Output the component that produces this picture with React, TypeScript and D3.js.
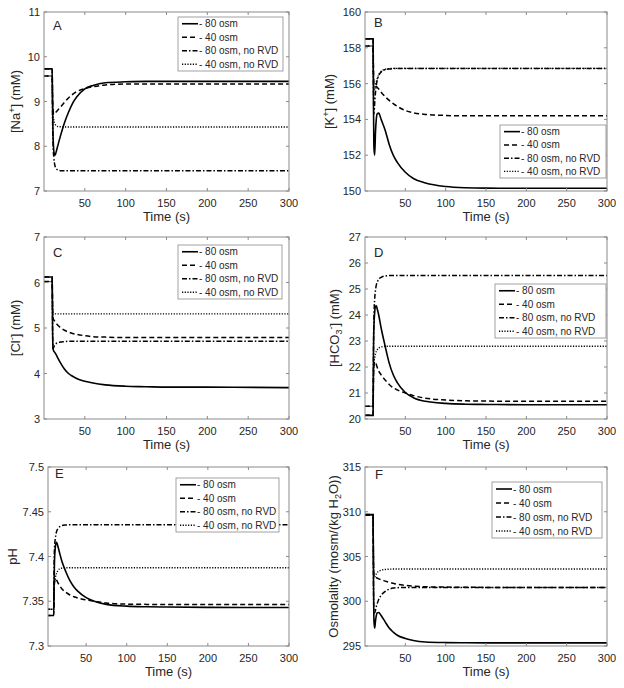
import React from 'react';
import * as d3 from 'd3';

// ---------------- data ----------------
const TIME = [0, 10, 10.5, 11, 12, 13, 14, 15, 17, 20, 25, 30, 35, 40, 50, 60, 75, 100, 125, 150, 200, 300];

const LEGEND_LABELS = ['- 80 osm', '- 40 osm', '- 80 osm, no RVD', '- 40 osm, no RVD'];
const X_TICKS = [50, 100, 150, 200, 250, 300];

// A: [Na+]
const NA_80 = [9.73, 9.73, 8.9, 8.3, 7.9, 7.8, 7.82, 7.88, 8.02, 8.22, 8.52, 8.76, 8.96, 9.1, 9.28, 9.36, 9.42, 9.44, 9.45, 9.45, 9.45, 9.45];
const NA_40 = [9.73, 9.73, 9.1, 8.82, 8.72, 8.73, 8.75, 8.77, 8.81, 8.87, 8.98, 9.08, 9.16, 9.22, 9.29, 9.33, 9.37, 9.39, 9.39, 9.39, 9.39, 9.39];
const NA_80N = [9.57, 9.57, 8.6, 8.1, 7.75, 7.6, 7.53, 7.5, 7.47, 7.455, 7.45, 7.45, 7.45, 7.45, 7.45, 7.45, 7.45, 7.45, 7.45, 7.45, 7.45, 7.45];
const NA_40N = [9.57, 9.57, 9.0, 8.75, 8.58, 8.52, 8.48, 8.46, 8.44, 8.435, 8.43, 8.43, 8.43, 8.43, 8.43, 8.43, 8.43, 8.43, 8.43, 8.43, 8.43, 8.43];
const Y_TICKS_A = [7, 8, 9, 10, 11];

// B: [K+]
const K_80 = [158.5, 158.5, 155.0, 152.5, 152.0, 153.3, 154.0, 154.3, 154.35, 154.0, 153.4, 152.6, 152.0, 151.6, 151.05, 150.7, 150.45, 150.25, 150.18, 150.16, 150.15, 150.15];
const K_40 = [158.5, 158.5, 156.8, 156.0, 155.9, 155.87, 155.84, 155.8, 155.7, 155.52, 155.27, 155.06, 154.88, 154.73, 154.5, 154.37, 154.28, 154.22, 154.2, 154.2, 154.2, 154.2];
const K_80N = [158.1, 158.1, 155.5, 154.3, 154.9, 155.5, 155.9, 156.15, 156.45, 156.65, 156.78, 156.82, 156.84, 156.85, 156.85, 156.85, 156.85, 156.85, 156.85, 156.85, 156.85, 156.85];
const K_40N = [158.1, 158.1, 156.3, 155.6, 155.75, 155.95, 156.1, 156.25, 156.5, 156.68, 156.8, 156.84, 156.85, 156.85, 156.85, 156.85, 156.85, 156.85, 156.85, 156.85, 156.85, 156.85];
const Y_TICKS_B = [150, 152, 154, 156, 158, 160];

// C: [Cl-]
const CL_80 = [6.12, 6.12, 5.0, 4.55, 4.49, 4.47, 4.44, 4.41, 4.34, 4.24, 4.1, 4.0, 3.94, 3.89, 3.83, 3.79, 3.75, 3.72, 3.71, 3.7, 3.7, 3.69];
const CL_40 = [6.12, 6.12, 5.5, 5.22, 5.18, 5.15, 5.12, 5.1, 5.06, 5.01, 4.95, 4.91, 4.88, 4.86, 4.83, 4.81, 4.8, 4.79, 4.79, 4.79, 4.79, 4.79];
const CL_80N = [6.02, 6.02, 5.0, 4.55, 4.58, 4.62, 4.64, 4.66, 4.68, 4.69, 4.7, 4.71, 4.71, 4.71, 4.71, 4.71, 4.71, 4.71, 4.71, 4.71, 4.71, 4.71];
const CL_40N = [6.02, 6.02, 5.5, 5.3, 5.29, 5.3, 5.31, 5.31, 5.31, 5.31, 5.31, 5.31, 5.31, 5.31, 5.31, 5.31, 5.31, 5.31, 5.31, 5.31, 5.31, 5.31];
const Y_TICKS_C = [3, 4, 5, 6, 7];

// D: [HCO3-]
const HCO3_80 = [20.14, 20.14, 22.5, 23.5, 24.1, 24.33, 24.35, 24.25, 24.0, 23.5, 22.8, 22.15, 21.7, 21.4, 21.02, 20.82, 20.68, 20.6, 20.57, 20.56, 20.55, 20.55];
const HCO3_40 = [20.14, 20.14, 21.5, 22.0, 22.2, 22.18, 22.1, 22.0, 21.85, 21.7, 21.5, 21.33, 21.2, 21.12, 21.0, 20.9, 20.8, 20.73, 20.7, 20.69, 20.68, 20.68];
const HCO3_80N = [20.49, 20.49, 22.5, 23.8, 24.6, 24.95, 25.15, 25.25, 25.38, 25.45, 25.5, 25.52, 25.52, 25.52, 25.52, 25.52, 25.52, 25.52, 25.52, 25.52, 25.52, 25.52];
const HCO3_40N = [20.49, 20.49, 21.6, 22.1, 22.35, 22.5, 22.6, 22.66, 22.73, 22.77, 22.8, 22.8, 22.8, 22.8, 22.8, 22.8, 22.8, 22.8, 22.8, 22.8, 22.8, 22.8];
const Y_TICKS_D = [20, 21, 22, 23, 24, 25, 26, 27];

// E: pH
const PH_80 = [7.334, 7.334, 7.37, 7.395, 7.41, 7.416, 7.415, 7.412, 7.405, 7.395, 7.383, 7.373, 7.366, 7.361, 7.354, 7.35, 7.3465, 7.3445, 7.3438, 7.3435, 7.3432, 7.343];
const PH_40 = [7.334, 7.334, 7.36, 7.37, 7.376, 7.375, 7.373, 7.371, 7.368, 7.364, 7.36, 7.357, 7.355, 7.3535, 7.3515, 7.35, 7.348, 7.3468, 7.3465, 7.3463, 7.3463, 7.3463];
const PH_80N = [7.341, 7.341, 7.39, 7.41, 7.42, 7.426, 7.429, 7.431, 7.433, 7.4345, 7.4352, 7.4355, 7.4355, 7.4355, 7.4355, 7.4355, 7.4355, 7.4355, 7.4355, 7.4355, 7.4355, 7.4355];
const PH_40N = [7.341, 7.341, 7.362, 7.37, 7.376, 7.38, 7.382, 7.384, 7.386, 7.387, 7.3875, 7.3875, 7.3875, 7.3875, 7.3875, 7.3875, 7.3875, 7.3875, 7.3875, 7.3875, 7.3875, 7.3875];
const Y_TICKS_E = [7.3, 7.35, 7.4, 7.45, 7.5];

// F: Osmolality
const OSM_80 = [309.7, 309.7, 303, 298, 297.0, 297.8, 298.4, 298.7, 298.75, 298.4, 297.7, 297.0, 296.55, 296.2, 295.85, 295.62, 295.45, 295.38, 295.36, 295.35, 295.35, 295.35];
const OSM_40 = [309.7, 309.7, 304.5, 303.0, 302.75, 302.7, 302.65, 302.6, 302.5, 302.4, 302.25, 302.1, 302.0, 301.9, 301.78, 301.7, 301.62, 301.58, 301.56, 301.55, 301.55, 301.55];
const OSM_80N = [309.6, 309.6, 302, 298.8, 298.7, 299.0, 299.4, 299.7, 300.2, 300.65, 301.1, 301.35, 301.47, 301.52, 301.55, 301.55, 301.55, 301.55, 301.55, 301.55, 301.55, 301.55];
const OSM_40N = [309.6, 309.6, 305, 302.8, 302.7, 302.9, 303.05, 303.2, 303.35, 303.47, 303.55, 303.58, 303.6, 303.6, 303.6, 303.6, 303.6, 303.6, 303.6, 303.6, 303.6, 303.6];
const Y_TICKS_F = [295, 300, 305, 310, 315];

// ---------------- styling / layout ----------------
const FONT = '"Liberation Sans", Arial, Helvetica, sans-serif';
const AXIS_COLOR = '#8a8a8a';
const TEXT_COLOR = '#262626';
const LINE_STYLES = [
  { dash: undefined, width: 1.6 },
  { dash: '5,3', width: 1.5 },
  { dash: '5,2,1.5,2', width: 1.5 },
  { dash: '1.2,1.5', width: 1.4 },
];

const yLabelA = (<>[Na<tspan dy={-5} fontSize={9}>+</tspan><tspan dy={5}>] (mM)</tspan></>);
const yLabelB = (<>[K<tspan dy={-5} fontSize={9}>+</tspan><tspan dy={5}>] (mM)</tspan></>);
const yLabelC = (<>[Cl<tspan dy={-5} fontSize={9}>-</tspan><tspan dy={5}>] (mM)</tspan></>);
const yLabelD = (<>[HCO<tspan dy={3} fontSize={9}>3</tspan><tspan dy={-8} fontSize={9}>-</tspan><tspan dy={5}>] (mM)</tspan></>);
const yLabelE = (<>pH</>);
const yLabelF = (<>Osmolality (mosm/(kg H<tspan dy={3} fontSize={9}>2</tspan><tspan dy={-3}>O))</tspan></>);

const PANELS = [
  { id: 'A', series: [NA_80, NA_40, NA_80N, NA_40N], yDomain: [7, 11], yTicks: Y_TICKS_A, yLabel: yLabelA,
    left: 44, right: 289, top: 12, bottom: 191, xStart: 0, legend: [178, 17, 283, 71], letter: [53, 30], yLabelX: 20 },
  { id: 'B', series: [K_80, K_40, K_80N, K_40N], yDomain: [150, 160], yTicks: Y_TICKS_B, yLabel: yLabelB,
    left: 365, right: 607, top: 12, bottom: 191, xStart: 0, legend: [500, 125, 606, 178], letter: [374, 27], yLabelX: 334 },
  { id: 'C', series: [CL_80, CL_40, CL_80N, CL_40N], yDomain: [3, 7], yTicks: Y_TICKS_C, yLabel: yLabelC,
    left: 44, right: 289, top: 237, bottom: 419, xStart: 0, legend: [178, 245, 282, 299], letter: [53, 257], yLabelX: 20 },
  { id: 'D', series: [HCO3_80, HCO3_40, HCO3_80N, HCO3_40N], yDomain: [20, 27], yTicks: Y_TICKS_D, yLabel: yLabelD,
    left: 365, right: 607, top: 237, bottom: 419, xStart: 0, legend: [495, 284, 606, 338], letter: [374, 257], yLabelX: 339 },
  { id: 'E', series: [PH_80, PH_40, PH_80N, PH_40N], yDomain: [7.3, 7.5], yTicks: Y_TICKS_E, yLabel: yLabelE,
    left: 48, right: 289, top: 467, bottom: 646, xStart: 3, legend: [176, 478, 279, 532], letter: [55, 478], yLabelX: 17 },
  { id: 'F', series: [OSM_80, OSM_40, OSM_80N, OSM_40N], yDomain: [295, 315], yTicks: Y_TICKS_F, yLabel: yLabelF,
    left: 365, right: 607, top: 467, bottom: 646, xStart: 0, legend: [492, 482, 602, 538], letter: [375, 479], yLabelX: 338 },
];

function Panel({ cfg }: { cfg: any }) {
  const x = d3.scaleLinear().domain([cfg.xStart, 300]).range([cfg.left, cfg.right]);
  const y = d3.scaleLinear().domain(cfg.yDomain).range([cfg.bottom, cfg.top]);
  const lineGen = d3.line<number>()
    .x((_, i) => x(TIME[i]))
    .y((v) => y(v))
    .curve(d3.curveMonotoneX);
  const clipId = `clip-${cfg.id}`;
  const [lx1, ly1, lx2, ly2] = cfg.legend;
  const rowH = (ly2 - ly1) / 4;
  const tick = 3;
  const fmt = (v: number) => String(v);
  return (
    <g>
      <defs>
        <clipPath id={clipId}>
          <rect x={cfg.left} y={cfg.top} width={cfg.right - cfg.left} height={cfg.bottom - cfg.top} />
        </clipPath>
      </defs>
      <rect x={cfg.left} y={cfg.top} width={cfg.right - cfg.left} height={cfg.bottom - cfg.top} fill="#fff" />
      <g clipPath={`url(#${clipId})`}>
        {cfg.series.map((vals: number[], i: number) => (
          <path key={i} d={lineGen(vals) || ''} fill="none" stroke="#000"
            strokeWidth={LINE_STYLES[i].width} strokeDasharray={LINE_STYLES[i].dash} />
        ))}
      </g>
      {/* axes box */}
      <rect x={cfg.left} y={cfg.top} width={cfg.right - cfg.left} height={cfg.bottom - cfg.top}
        fill="none" stroke={AXIS_COLOR} strokeWidth={1} />
      {X_TICKS.map((t) => (
        <g key={`xt${t}`}>
          <line x1={x(t)} x2={x(t)} y1={cfg.bottom} y2={cfg.bottom - tick} stroke={AXIS_COLOR} />
          <line x1={x(t)} x2={x(t)} y1={cfg.top} y2={cfg.top + tick} stroke={AXIS_COLOR} />
          <text x={x(t)} y={cfg.bottom + 16} textAnchor="middle" fontSize={11} fill={TEXT_COLOR}>{t}</text>
        </g>
      ))}
      {cfg.yTicks.map((v: number) => (
        <g key={`yt${v}`}>
          <line x1={cfg.left} x2={cfg.left + tick} y1={y(v)} y2={y(v)} stroke={AXIS_COLOR} />
          <line x1={cfg.right} x2={cfg.right - tick} y1={y(v)} y2={y(v)} stroke={AXIS_COLOR} />
          <text x={cfg.left - 4} y={y(v) + 4} textAnchor="end" fontSize={11} fill={TEXT_COLOR}>{fmt(v)}</text>
        </g>
      ))}
      <text x={(cfg.left + cfg.right) / 2} y={cfg.bottom + 30} textAnchor="middle" fontSize={13} fill={TEXT_COLOR}>Time (s)</text>
      <text transform={`translate(${cfg.yLabelX},${(cfg.top + cfg.bottom) / 2}) rotate(-90)`} textAnchor="middle"
        fontSize={13} fill={TEXT_COLOR}>{cfg.yLabel}</text>
      <text x={cfg.letter[0]} y={cfg.letter[1]} fontSize={13} fill={TEXT_COLOR}>{cfg.id}</text>
      {/* legend */}
      <rect x={lx1} y={ly1} width={lx2 - lx1} height={ly2 - ly1} fill="#fff" stroke={AXIS_COLOR} strokeWidth={0.8} />
      {LEGEND_LABELS.map((lab, i) => {
        const cy = ly1 + rowH * (i + 0.5);
        return (
          <g key={lab}>
            <line x1={lx1 + 4} x2={lx1 + 20} y1={cy} y2={cy} stroke="#000"
              strokeWidth={LINE_STYLES[i].width} strokeDasharray={LINE_STYLES[i].dash} />
            <text x={lx1 + 21} y={cy + 3.5} fontSize={10} fill={TEXT_COLOR}>{lab}</text>
          </g>
        );
      })}
    </g>
  );
}

export default function App() {
  return (
    <svg width={624} height={688} style={{ position: 'absolute', left: 0, top: 0, background: '#fff' }}
      fontFamily={FONT}>
      <rect x={0} y={0} width={624} height={688} fill="#fff" />
      {PANELS.map((p) => <Panel key={p.id} cfg={p} />)}
    </svg>
  );
}
